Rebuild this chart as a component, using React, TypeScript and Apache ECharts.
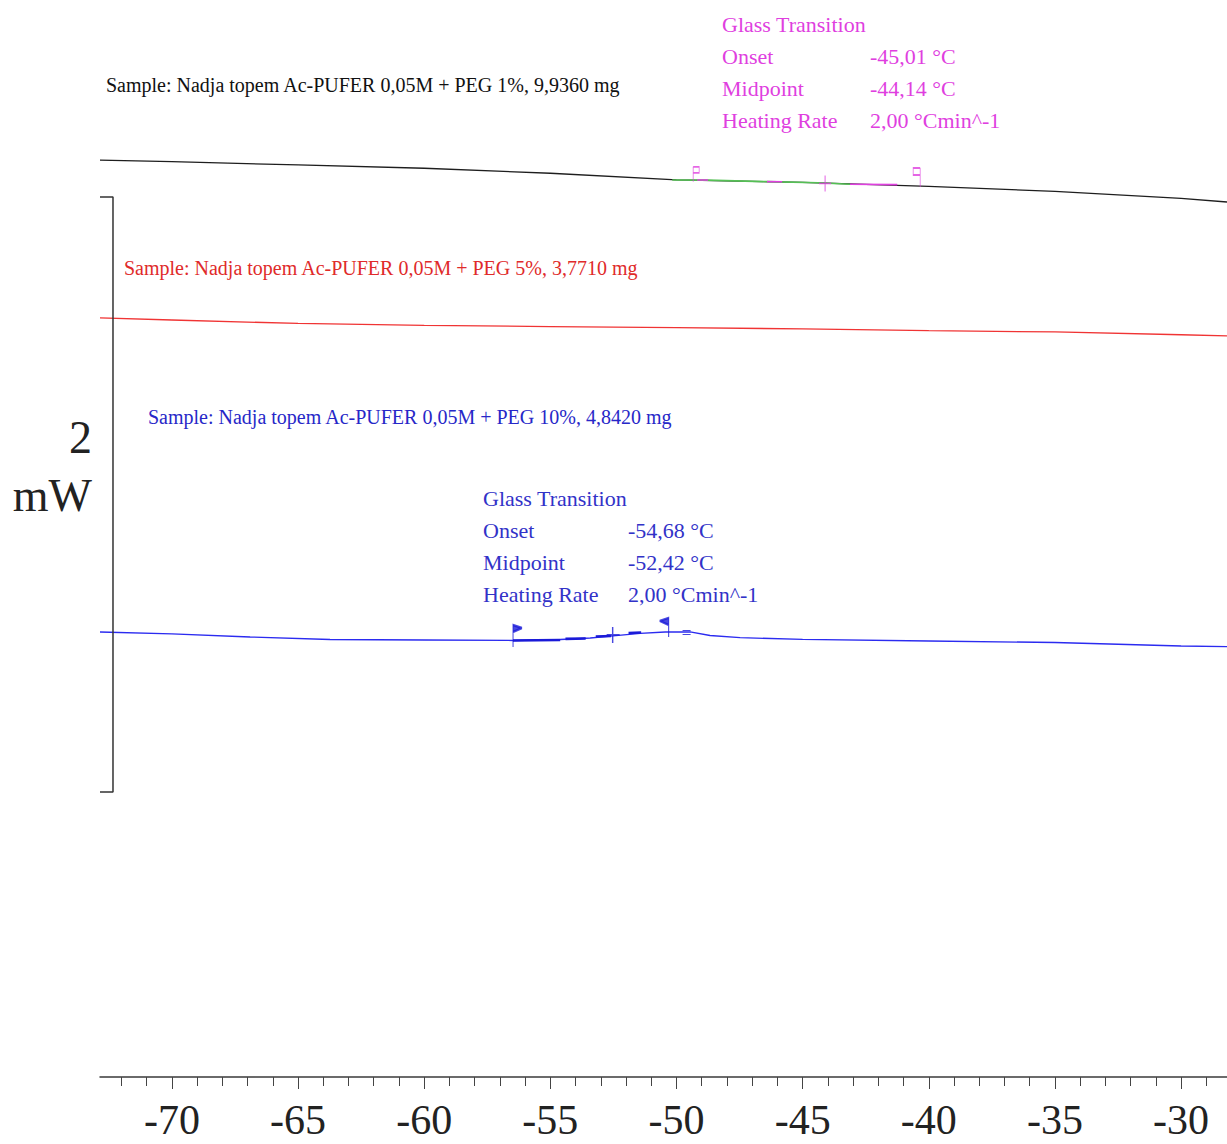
import React, { useEffect, useRef } from "react";
import * as echarts from "echarts";

// ---- axis ----
const X_MIN = -72.85;
const X_MAX = -28.18;
const Y_MIN = 0;
const Y_MAX = 3.62; // mW (hidden axis)
const TICK_LABELS = [-70, -65, -60, -55, -50, -45, -40, -35, -30];
const MINOR_TICKS = [
  -72, -71, -70, -69, -68, -67, -66, -65, -64, -63, -62, -61, -60, -59, -58, -57, -56, -55, -54, -53, -52, -51,
  -50, -49, -48, -47, -46, -45, -44, -43, -42, -41, -40, -39, -38, -37, -36, -35, -34, -33, -32, -31, -30, -29,
];

// ---- curves (temperature °C, heat flow mW, arbitrary offset) ----
const TEMP_BLACK = [-72.85, -70, -65, -60, -55, -50, -45, -40, -35, -30, -28.18];
const HF_BLACK = [3.082, 3.077, 3.0655, 3.0545, 3.0376, 3.0151, 3.0067, 2.9933, 2.977, 2.953, 2.941];

const TEMP_RED = [-72.85, -70, -65, -60, -55, -50, -45, -40, -35, -30, -28.18];
const HF_RED = [2.5513, 2.5445, 2.5328, 2.5261, 2.5224, 2.5187, 2.5146, 2.5086, 2.5042, 2.4948, 2.4908];

const TEMP_BLUE = [
  -72.85, -70, -66.9, -63.73, -60, -56.48, -54.61, -53.42, -52.51, -51.44, -50.45, -49.46, -48.67, -47.48, -45, -40,
  -35, -30, -28.18,
];
const HF_BLUE = [
  1.4958, 1.4891, 1.479, 1.4706, 1.4689, 1.4672, 1.4706, 1.4756, 1.4824, 1.4908, 1.4958, 1.4958, 1.484, 1.4766, 1.4712,
  1.4655, 1.4605, 1.4487, 1.4464,
];

// ---- scale bar (2 mW) ----
const BAR_X = [-72.85, -72.335];
const BAR_HF = [2.958, 0.958];

// ---- glass transition evaluation marks, PEG 1% ----
const GREEN_T = [-50.17, -48.8, -46.4, -44.4, -43.12];
const GREEN_HF = [3.0151, 3.0145, 3.0094, 3.0057, 3.0006];
const MAG_SEGS = [
  [[-49.18, 3.0151], [-48.75, 3.0148]],
  [[-46.41, 3.0096], [-45.81, 3.0092]],
  [[-43.12, 3.0006], [-41.25, 2.9996]],
];
const MAG_MARK_T = [-49.22, -44.11, -40.48];
const MAG_MARK_HF = [3.034, 3.0034, 3.0235];

// ---- glass transition evaluation marks, PEG 10% ----
const BLUE_TAN = [
  [[-56.48, 1.4672], [-54.61, 1.4689]],
  [[-54.4, 1.4725], [-53.6, 1.474]],
  [[-53.2, 1.4807], [-52.6, 1.4824]],
  [[-51.9, 1.4925], [-51.4, 1.4941]],
];
const BLUE_MARK_T = [-56.3, -52.51, -50.49, -49.6];
const BLUE_MARK_HF = [1.4824, 1.4857, 1.511, 1.4941];

// ---- texts ----
const SAMPLE_1 = "Sample: Nadja topem Ac-PUFER 0,05M + PEG 1%, 9,9360 mg";
const SAMPLE_5 = "Sample: Nadja topem Ac-PUFER 0,05M + PEG 5%, 3,7710 mg";
const SAMPLE_10 = "Sample: Nadja topem Ac-PUFER 0,05M + PEG 10%, 4,8420 mg";
const GT_LABELS = ["Glass Transition", "Onset", "Midpoint", "Heating Rate"];
const GT_VALUES_1 = ["", "-45,01 °C", "-44,14 °C", "2,00 °Cmin^-1"];
const GT_VALUES_10 = ["", "-54,68 °C", "-52,42 °C", "2,00 °Cmin^-1"];

const SERIF = '"Liberation Serif", "DejaVu Serif", serif';
const MAGENTA = "#df3fdf";
const BLUE_TXT = "#3232c8";

const zip = (a: number[], b: number[]) => a.map((v, i) => [v, b[i]]);

function txt(text: string, x: number, y: number, size: number, color: string, align = "left") {
  return {
    type: "text",
    x,
    y,
    silent: true,
    style: {
      text,
      fill: color,
      font: `${size}px ${SERIF}`,
      textAlign: align,
      align,
      textVerticalAlign: "middle",
      verticalAlign: "middle",
    },
  };
}

function block(labels: string[], values: string[], x1: number, x2: number, y0: number, dy: number, color: string) {
  const out: any[] = [];
  labels.forEach((l, i) => {
    out.push(txt(l, x1, y0 + i * dy, 22, color));
    if (values[i]) out.push(txt(values[i], x2, y0 + i * dy, 22, color));
  });
  return out;
}

export default function App() {
  const ref = useRef<HTMLDivElement>(null);
  useEffect(() => {
    if (!ref.current) return;
    const chart = echarts.init(ref.current, undefined, { renderer: "svg" });
    const gridBox = { left: 100, right: 0, top: 0, height: 1077 };
    const baseX = { type: "value", min: X_MIN, max: X_MAX, splitLine: { show: false } };
    const baseY = { type: "value", min: Y_MIN, max: Y_MAX, show: false };
    const lineS = (data: any, color: string, width: number, z = 2) => ({
      type: "line",
      data,
      showSymbol: false,
      symbol: "none",
      silent: true,
      z,
      lineStyle: { color, width },
    });
    const option: any = {
      animation: false,
      backgroundColor: "#ffffff",
      grid: [gridBox, gridBox, gridBox],
      xAxis: [
        {
          ...baseX,
          gridIndex: 0,
          axisLine: { show: true, lineStyle: { color: "#3a3a3a", width: 1.5 } },
          axisTick: { show: false },
          axisLabel: { show: false },
        },
        {
          ...baseX,
          gridIndex: 1,
          offset: 4,
          axisLine: { show: false },
          axisTick: { show: true, customValues: MINOR_TICKS, length: 9, lineStyle: { color: "#444", width: 1 } },
          axisLabel: { show: false },
        },
        {
          ...baseX,
          gridIndex: 2,
          offset: 4,
          axisLine: { show: false },
          axisTick: { show: true, customValues: TICK_LABELS, length: 12, lineStyle: { color: "#444", width: 1 } },
          axisLabel: {
            show: true,
            customValues: TICK_LABELS,
            fontSize: 42,
            lineHeight: 40,
            fontFamily: SERIF,
            color: "#222",
            margin: 19,
          },
        },
      ],
      yAxis: [
        { ...baseY, gridIndex: 0 },
        { ...baseY, gridIndex: 1 },
        { ...baseY, gridIndex: 2 },
      ],
      series: [
        lineS(zip(TEMP_BLACK, HF_BLACK), "#1e1e1e", 1.3),
        lineS(zip(TEMP_RED, HF_RED), "#f03434", 1.3),
        lineS(zip(TEMP_BLUE, HF_BLUE), "#2b2bf0", 1.3),
        lineS(zip(BAR_X, [BAR_HF[0], BAR_HF[0]]).concat(zip([BAR_X[1], BAR_X[0]], [BAR_HF[1], BAR_HF[1]])), "#333", 1.5),
        lineS(zip(GREEN_T, GREEN_HF), "#55c055", 1.6, 3),
        ...MAG_SEGS.map((s) => lineS(s, MAGENTA, 1.6, 4)),
        ...BLUE_TAN.map((s) => lineS(s, "#1a1ad8", 2.6, 4)),
        {
          type: "scatter",
          silent: true,
          z: 5,
          data: [
            { value: [MAG_MARK_T[0], MAG_MARK_HF[0]], symbol: "path://M0,0 L0,15 M0,0 L5,0 L5,6 L0,6", symbolSize: [6, 15] },
            { value: [MAG_MARK_T[1], MAG_MARK_HF[1]], symbol: "path://M6,0 L6,16 M0,8 L12,8", symbolSize: [12, 16] },
            { value: [MAG_MARK_T[2], MAG_MARK_HF[2]], symbol: "path://M6,0 L6,19 M6,0 L0,0 L0,7 L6,7", symbolSize: [7, 19] },
          ],
          itemStyle: { color: "transparent", borderColor: MAGENTA, borderWidth: 1.2 },
        },
        {
          type: "scatter",
          silent: true,
          z: 5,
          data: [
            { value: [BLUE_MARK_T[0], BLUE_MARK_HF[0]], symbol: "path://M0,0 L9,3 L0,7 Z M0,0 L0,22", symbolSize: [9, 22] },
            { value: [BLUE_MARK_T[1], BLUE_MARK_HF[1]], symbol: "path://M6,0 L6,16 M0,8 L13,8", symbolSize: [13, 16] },
            { value: [BLUE_MARK_T[2], BLUE_MARK_HF[2]], symbol: "path://M9,0 L0,3 L9,7 Z M9,0 L9,19", symbolSize: [9, 19] },
            { value: [BLUE_MARK_T[3], BLUE_MARK_HF[3]], symbol: "path://M0,0 L8,0 M0,4 L8,4", symbolSize: [8, 4] },
          ],
          itemStyle: { color: "#1a1ad8", borderColor: "#1a1ad8", borderWidth: 1.6 },
        },
      ],
      graphic: [
        txt("2", 92, 437, 46, "#222", "right"),
        txt("mW", 92, 495, 46, "#222", "right"),
        txt(SAMPLE_1, 106, 85, 20, "#111111"),
        txt(SAMPLE_5, 124, 268, 20, "#e02a2a"),
        txt(SAMPLE_10, 148, 417, 20, "#2727c8"),
        ...block(GT_LABELS, GT_VALUES_1, 722, 870, 24, 32, MAGENTA),
        ...block(GT_LABELS, GT_VALUES_10, 483, 628, 498, 32, BLUE_TXT),
      ],
    };
    chart.setOption(option);
    return () => chart.dispose();
  }, []);
  return (
    <div
      ref={ref}
      style={{ position: "absolute", left: 0, top: 0, width: 1227, height: 1144, background: "#fff" }}
    />
  );
}
